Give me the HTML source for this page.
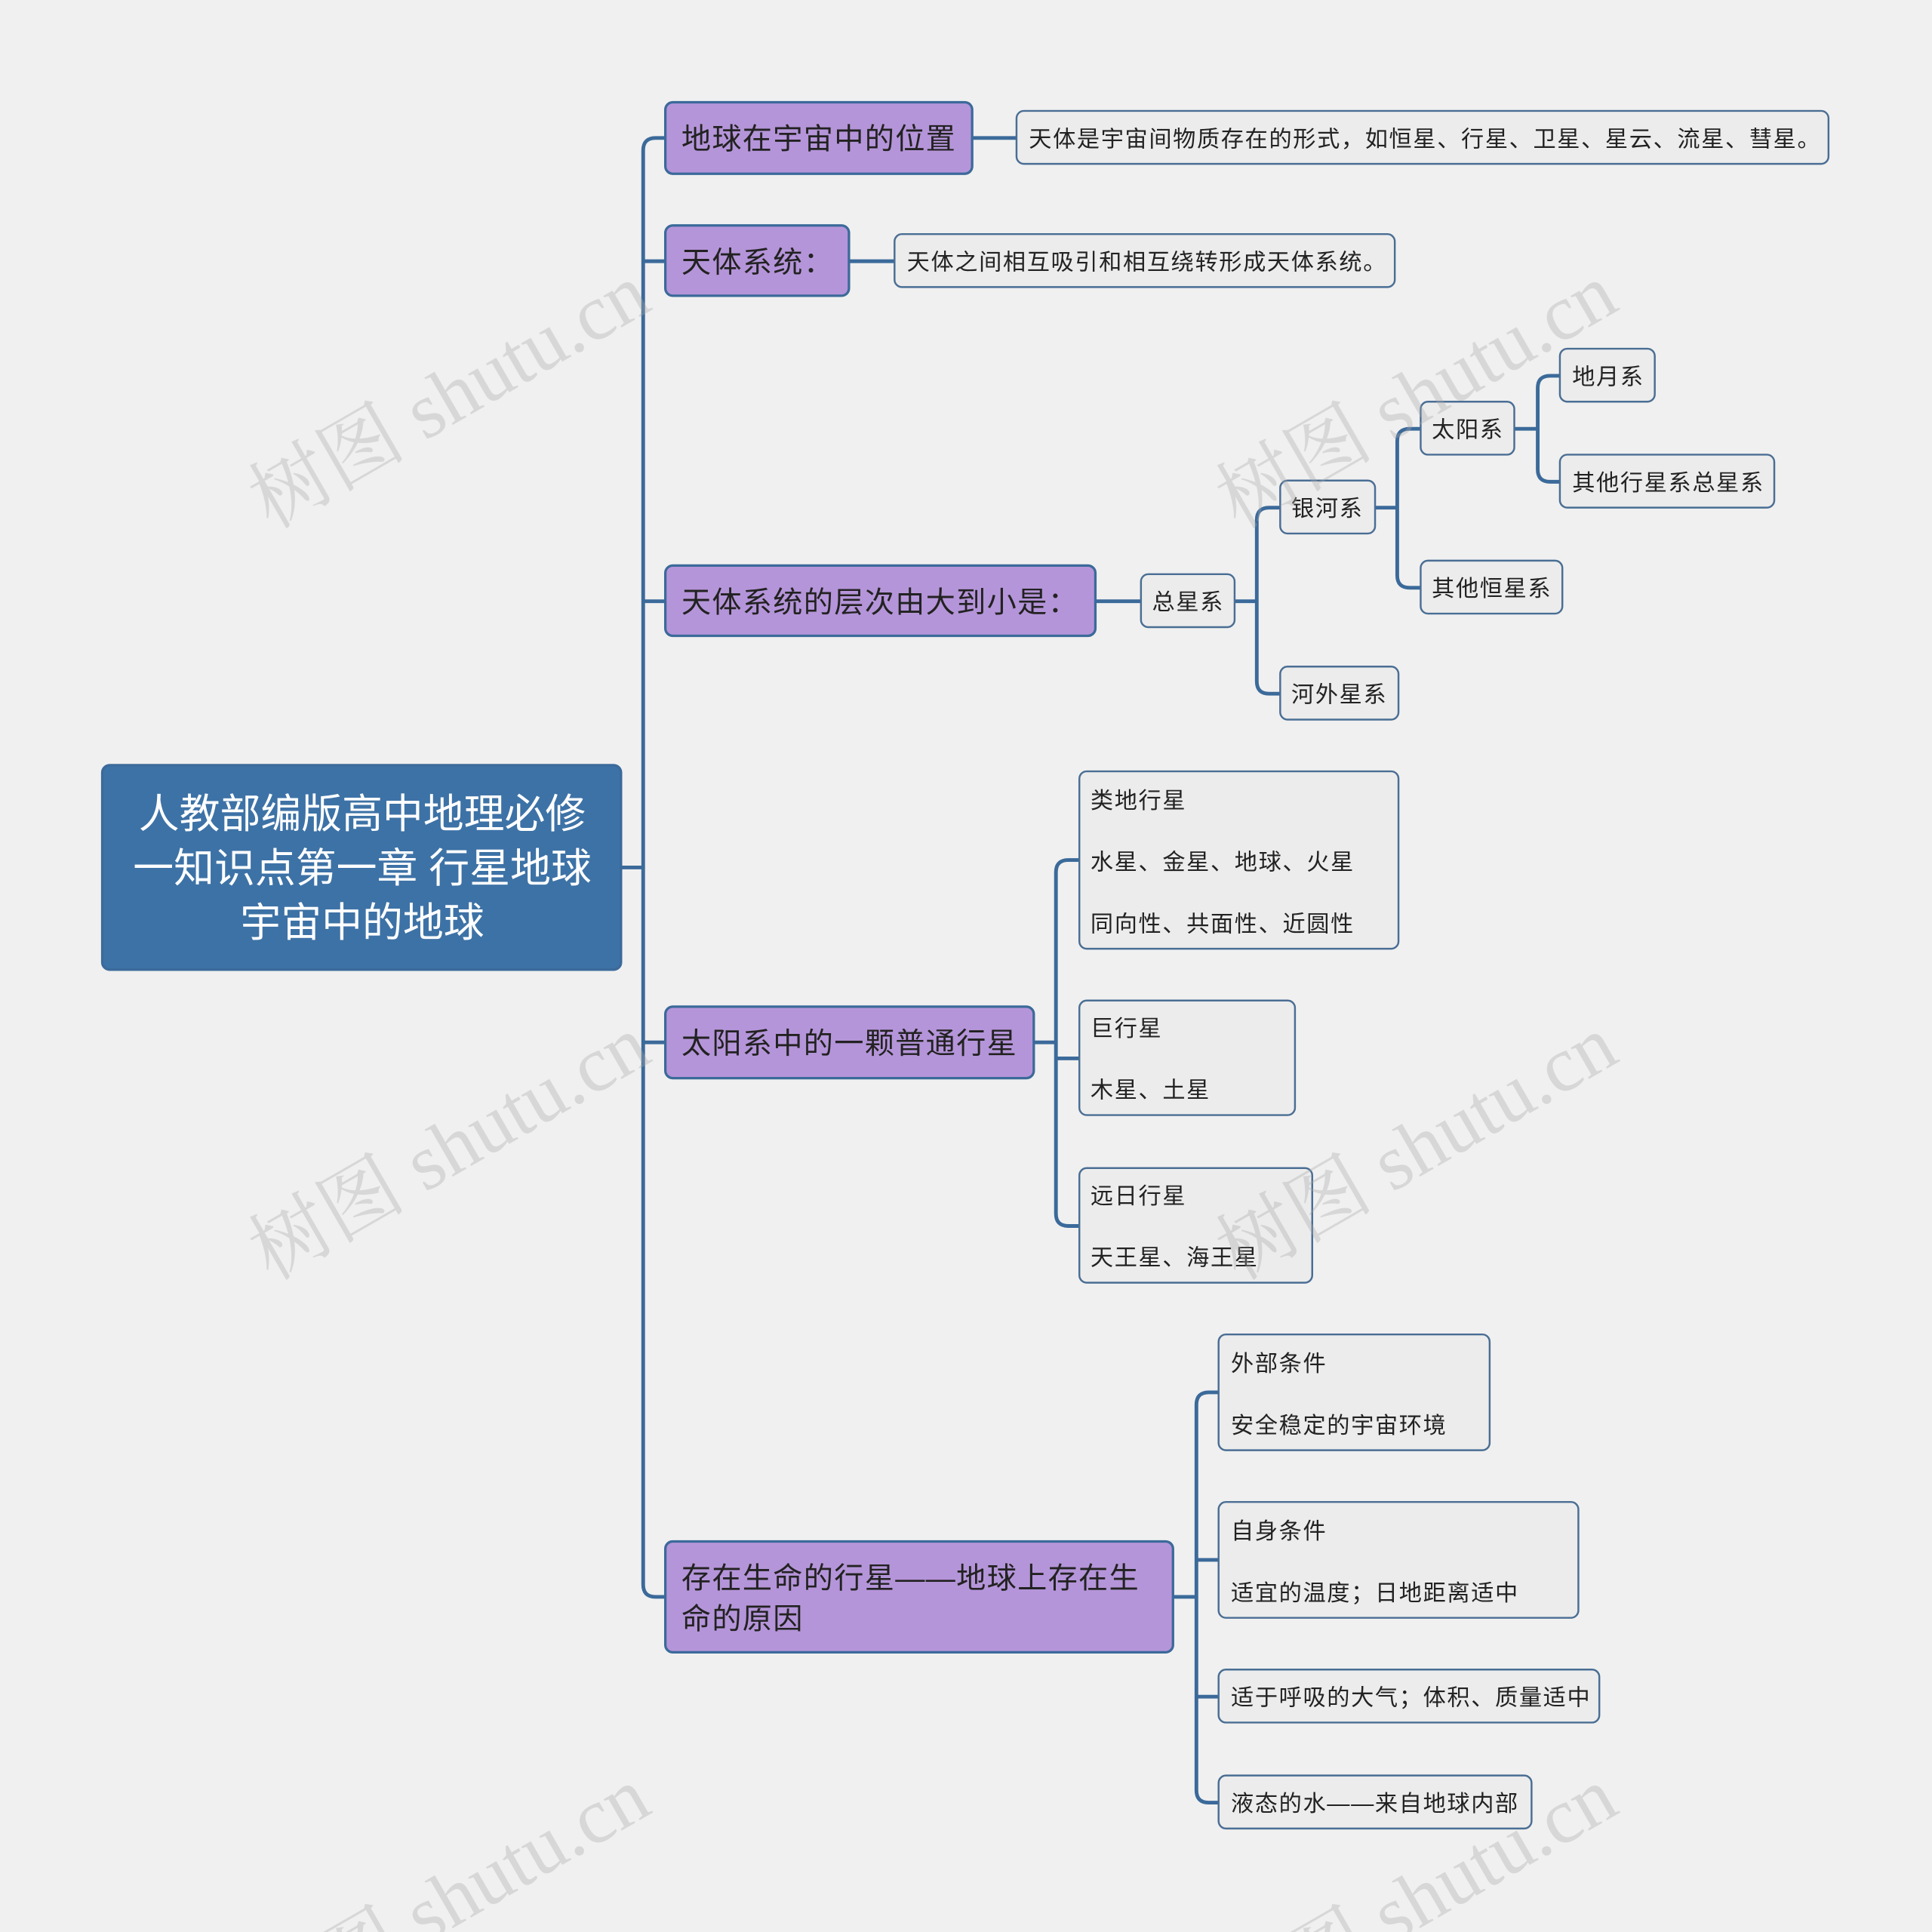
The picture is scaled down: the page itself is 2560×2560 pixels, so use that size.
<!DOCTYPE html>
<html><head><meta charset="utf-8"><style>
html,body{margin:0;padding:0;background:#f0f0f0;width:2560px;height:2560px;overflow:hidden;}
svg{display:block;}
text{font-family:"Liberation Sans","Noto Sans CJK SC",sans-serif;fill:#222;}
text.wm{font-family:"Liberation Serif","Noto Serif CJK SC",serif;fill:#aaa;}
</style></head><body>
<svg width="2560" height="2560" viewBox="0 0 1568 1568" xmlns="http://www.w3.org/2000/svg">
<rect width="1568" height="1568" fill="#f0f0f0"/>
<g fill="none" stroke="#3b6a9a" stroke-width="3">
<path d="M504 704 H522"/>
<path d="M540 112 H532 Q522 112 522 122 V1286 Q522 1296 532 1296 H540"/>
<path d="M522 212 H540 M522 488 H540 M522 846 H540"/>
<path d="M789 112 H825 M689 212 H726 M889 488 H926"/>
<path d="M1002 488 H1020 M1039 412 H1030 Q1020 412 1020 422 V553 Q1020 563 1030 563 H1039"/>
<path d="M1116 412 H1134 M1153 348 H1144 Q1134 348 1134 358 V467 Q1134 477 1144 477 H1153"/>
<path d="M1229 348 H1248 M1266 305 H1258 Q1248 305 1248 315 V381 Q1248 391 1258 391 H1266"/>
<path d="M839 846 H857 M876 698 H867 Q857 698 857 708 V985 Q857 995 867 995 H876 M857 859 H876"/>
<path d="M952 1296 H971 M989 1130 H981 Q971 1130 971 1140 V1453 Q971 1463 981 1463 H989 M971 1266 H989 M971 1377 H989"/>
</g>
<rect x="83" y="621" width="421" height="166" rx="6" fill="#3d72a6" stroke="#3b6a9a" stroke-width="2"/>
<g font-size="33" text-anchor="middle">
<text x="294" y="672" style="fill:#fff">人教部编版高中地理必修</text>
<text x="294" y="716" style="fill:#fff">一知识点第一章 行星地球</text>
<text x="294" y="760" style="fill:#fff">宇宙中的地球</text>
</g>
<g fill="#b595d9" stroke="#3b6a9a" stroke-width="2">
<rect x="540" y="83" width="249" height="58" rx="6"/>
<rect x="540" y="183" width="149" height="57" rx="6"/>
<rect x="540" y="459" width="349" height="57" rx="6"/>
<rect x="540" y="817" width="299" height="58" rx="6"/>
<rect x="540" y="1251" width="412" height="90" rx="6"/>
</g>
<g font-size="24" letter-spacing="0.8">
<text x="553" y="121">地球在宇宙中的位置</text>
<text x="553" y="221">天体系统：</text>
<text x="553" y="497">天体系统的层次由大到小是：</text>
<text x="553" y="855">太阳系中的一颗普通行星</text>
<text x="553" y="1289">存在生命的行星——地球上存在生</text>
<text x="553" y="1322">命的原因</text>
</g>
<g fill="#ececec" stroke="#4a6e94" stroke-width="1.5">
<rect x="825" y="90" width="659" height="43" rx="6"/>
<rect x="726" y="190" width="406" height="43" rx="6"/>
<rect x="926" y="466" width="76" height="43" rx="6"/>
<rect x="1039" y="390" width="77" height="43" rx="6"/>
<rect x="1039" y="541" width="96" height="43" rx="6"/>
<rect x="1153" y="326" width="76" height="43" rx="6"/>
<rect x="1153" y="455" width="115" height="43" rx="6"/>
<rect x="1266" y="283" width="77" height="43" rx="6"/>
<rect x="1266" y="369" width="174" height="43" rx="6"/>
<rect x="876" y="626" width="259" height="144" rx="6"/>
<rect x="876" y="812" width="175" height="93" rx="6"/>
<rect x="876" y="948" width="189" height="93" rx="6"/>
<rect x="989" y="1083" width="220" height="94" rx="6"/>
<rect x="989" y="1219" width="292" height="94" rx="6"/>
<rect x="989" y="1355" width="309" height="43" rx="6"/>
<rect x="989" y="1441" width="254" height="43" rx="6"/>
</g>
<g font-size="18.5" letter-spacing="1">
<text x="835" y="119">天体是宇宙间物质存在的形式，如恒星、行星、卫星、星云、流星、彗星。</text>
<text x="736" y="219">天体之间相互吸引和相互绕转形成天体系统。</text>
<text x="935" y="495">总星系</text>
<text x="1048" y="419">银河系</text>
<text x="1048" y="570">河外星系</text>
<text x="1162" y="355">太阳系</text>
<text x="1162" y="484">其他恒星系</text>
<text x="1276" y="312">地月系</text>
<text x="1276" y="398">其他行星系总星系</text>
<text x="885" y="656">类地行星</text>
<text x="885" y="706">水星、金星、地球、火星</text>
<text x="885" y="756">同向性、共面性、近圆性</text>
<text x="885" y="841">巨行星</text>
<text x="885" y="891">木星、土星</text>
<text x="885" y="977">远日行星</text>
<text x="885" y="1027">天王星、海王星</text>
<text x="999" y="1113">外部条件</text>
<text x="999" y="1163">安全稳定的宇宙环境</text>
<text x="999" y="1249">自身条件</text>
<text x="999" y="1299">适宜的温度；日地距离适中</text>
<text x="999" y="1384">适于呼吸的大气；体积、质量适中</text>
<text x="999" y="1470">液态的水——来自地球内部</text>
</g>
<g font-size="64" opacity="0.35">
<text class="wm" x="220" y="430" transform="rotate(-30 220 430)">树图 shutu.cn</text>
<text class="wm" x="1005" y="430" transform="rotate(-30 1005 430)">树图 shutu.cn</text>
<text class="wm" x="220" y="1040" transform="rotate(-30 220 1040)">树图 shutu.cn</text>
<text class="wm" x="1005" y="1040" transform="rotate(-30 1005 1040)">树图 shutu.cn</text>
<text class="wm" x="220" y="1650" transform="rotate(-30 220 1650)">树图 shutu.cn</text>
<text class="wm" x="1005" y="1650" transform="rotate(-30 1005 1650)">树图 shutu.cn</text>
</g>
</svg>
</body></html>
